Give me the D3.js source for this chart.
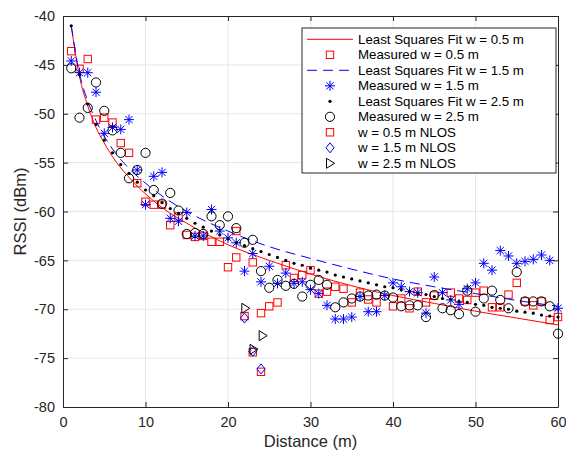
<!DOCTYPE html>
<html>
<head>
<meta charset="utf-8">
<script src="https://cdn.jsdelivr.net/npm/d3@7"></script>
<style>
  body { margin: 0; background: #fff; }
  svg { font-family: 'Liberation Sans', Arial, sans-serif; }
</style>
</head>
<body>
<div id="chart"></div>
<script>
// distances where the fitted curves were read
const fitDist = [1, 2, 3, 4, 5, 6, 8, 10, 12, 15, 20, 25, 30, 35, 40, 45, 50, 55, 60]
const fitRed = [-41.0, -46.2, -49.2, -51.4, -53.0, -54.4, -56.5, -58.2, -59.6, -61.2, -63.4, -65.0, -66.4, -67.6, -68.6, -69.4, -70.2, -70.9, -71.6]
const fitBlue = [-41.0, -45.9, -48.7, -50.7, -52.3, -53.6, -55.6, -57.1, -58.4, -60.0, -62.0, -63.6, -64.8, -65.9, -66.9, -67.7, -68.4, -69.1, -69.7]

// w = 2.5 m fit is drawn as dots, one per metre
const fitBlackDist = [1, 2, 3, 4, 5, 6, 7, 8, 9, 10, 11, 12, 13, 14, 15, 16, 17, 18, 19, 20,
  21, 22, 23, 24, 25, 26, 27, 28, 29, 30, 31, 32, 33, 34, 35, 36, 37, 38, 39, 40,
  41, 42, 43, 44, 45, 46, 47, 48, 49, 50, 51, 52, 53, 54, 55, 56, 57, 58, 59, 60]
const fitBlack = [-41.0, -46.0, -49.0, -51.1, -52.7, -54.0, -55.2, -56.1, -57.0, -57.8,
  -58.4, -59.1, -59.7, -60.2, -60.7, -61.2, -61.6, -62.0, -62.4, -62.8,
  -63.2, -63.5, -63.8, -64.1, -64.4, -64.7, -65.0, -65.3, -65.5, -65.8,
  -66.0, -66.2, -66.5, -66.7, -66.9, -67.1, -67.3, -67.5, -67.7, -67.8,
  -68.0, -68.2, -68.4, -68.5, -68.7, -68.9, -69.0, -69.2, -69.3, -69.5,
  -69.6, -69.8, -69.9, -70.0, -70.2, -70.3, -70.4, -70.6, -70.7, -70.8]

// measured RSSI, [distance, dBm]
const measured05 = [[1, -43.6], [2, -45.4], [3, -44.4], [4, -50.6], [5, -50.4], [6, -50.9], [7, -53.0], [8, -54.0],
  [9, -57.1], [10, -59.0], [11, -59.3], [12, -59.3], [13, -61.4], [14, -60.5], [15, -62.4], [16, -62.6],
  [17, -62.5], [18, -63.1], [19, -63.1], [20, -65.7], [21, -62.0], [21, -64.7], [23, -65.2], [24, -70.4],
  [25, -69.7], [26, -69.3], [27, -65.5], [28, -66.8], [29, -66.5], [30, -66.0], [31, -68.4], [32, -68.2],
  [33, -67.7], [34, -67.9], [35, -69.3], [36, -68.3], [37, -69.0], [38, -69.3], [40, -69.7], [41, -68.9],
  [42, -69.9], [43, -68.2], [44, -69.3], [45, -68.6], [47, -68.3], [48, -68.9], [49, -69.05], [50, -68.3],
  [51, -68.1], [52, -69.8], [53, -69.8], [54, -68.5], [55, -67.3], [56, -69.2], [57, -69.6], [58, -69.2],
  [59, -71.1], [60, -70.8]]
const measured15 = [[1, -44.6], [2, -45.8], [3, -45.8], [4, -47.8], [5, -52.0], [6, -51.4], [7, -51.6], [8, -50.6],
  [9, -55.75], [10, -59.3], [11, -56.4], [12, -56.0], [13, -60.7], [14, -61.0], [15, -60.1], [16, -62.5],
  [17, -62.5], [18, -59.8], [19, -62.0], [20, -62.7], [21, -63.2], [22, -66.1], [23, -64.3], [24, -67.2],
  [25, -65.6], [26, -67.35], [27, -66.3], [28, -67.35], [29, -67.2], [30, -68.0], [31, -68.4], [32, -69.6],
  [33, -71.0], [34, -71.0], [35, -70.8], [36, -68.7], [37, -70.25], [38, -70.25], [39, -68.6], [40, -67.3],
  [41, -67.7], [42, -68.2], [43, -68.3], [44, -70.4], [45, -66.7], [46, -68.3], [47, -69.05], [48, -69.5],
  [49, -67.9], [50, -67.3], [51, -65.3], [52, -66.0], [53, -64.0], [54, -64.55], [55, -65.3], [56, -65.1],
  [57, -64.9], [58, -64.45], [59, -65.0], [60, -69.9]]
const measured25 = [[1, -45.35], [2, -50.4], [3, -49.4], [4, -46.8], [5, -49.7], [6, -51.7], [7, -54.0], [8, -56.6],
  [9, -55.75], [10, -54.0], [11, -57.8], [12, -59.2], [13, -58.1], [14, -59.9], [15, -62.3], [16, -62.2],
  [17, -62.3], [18, -60.5], [19, -61.4], [20, -60.5], [21, -61.7], [22, -63.2], [23, -62.9], [24, -66.1],
  [25, -67.8], [26, -67.0], [27, -67.6], [28, -67.4], [29, -68.7], [30, -67.5], [31, -67.0], [32, -67.5],
  [33, -69.8], [34, -69.3], [35, -68.9], [36, -68.7], [37, -68.6], [38, -68.5], [39, -68.6], [40, -68.8],
  [41, -69.7], [42, -69.6], [43, -69.6], [44, -70.8], [45, -68.55], [46, -69.9], [47, -70.1], [48, -70.5],
  [49, -68.1], [50, -70.25], [51, -68.9], [52, -68.1], [53, -69.05], [54, -69.9], [55, -66.2], [56, -69.2],
  [57, -69.2], [58, -69.2], [59, -69.7], [60, -72.5]]

const nlos05 = [[22, -70.7], [23, -74.4], [24, -76.4]]
const nlos15 = [[22, -70.9], [23, -74.3], [24, -76.1]]
const nlos25 = [[22.1, -69.9], [23.1, -74.1], [24.2, -72.7]]

const legendLabels = [
  'Least Squares Fit w = 0.5 m', 'Measured w = 0.5 m',
  'Least Squares Fit w = 1.5 m', 'Measured w = 1.5 m',
  'Least Squares Fit w = 2.5 m', 'Measured w = 2.5 m',
  'w = 0.5 m NLOS', 'w = 1.5 m NLOS', 'w = 2.5 m NLOS'
]
const xTicks = [0, 10, 20, 30, 40, 50, 60]
const yTicks = [-80, -75, -70, -65, -60, -55, -50, -45, -40]

const width = 566
const height = 452
const margin = { top: 16, right: 8, bottom: 45, left: 63 }
const innerW = width - margin.left - margin.right
const innerH = height - margin.top - margin.bottom
const axisColor = '#262626'

const svg = d3.select('#chart')
  .append('svg')
  .attr('width', width)
  .attr('height', height)

const g = svg.append('g')
  .attr('transform', `translate(${margin.left}, ${margin.top})`)

const x = d3.scaleLinear().domain([0, 60]).range([0, innerW])
const y = d3.scaleLinear().domain([-80, -40]).range([innerH, 0])

// grid
g.append('g')
  .selectAll('line')
  .data(xTicks.slice(1, -1))
  .join('line')
  .attr('x1', d => x(d)).attr('x2', d => x(d))
  .attr('y1', 0).attr('y2', innerH)
  .attr('stroke', '#e6e6e6')
g.append('g')
  .selectAll('line')
  .data(yTicks.slice(1, -1))
  .join('line')
  .attr('x1', 0).attr('x2', innerW)
  .attr('y1', d => y(d)).attr('y2', d => y(d))
  .attr('stroke', '#e6e6e6')

// axes, ticks pointing inward, box all round
const fmt = d => String(d)
const styleAxis = sel => {
  sel.select('.domain').attr('stroke', axisColor)
  sel.selectAll('.tick line').attr('stroke', axisColor)
  sel.selectAll('.tick text')
    .attr('fill', axisColor)
    .attr('font-size', 14.5)
    .attr('font-family', 'Liberation Sans, Arial, sans-serif')
}
g.append('g')
  .attr('transform', `translate(0, ${innerH})`)
  .call(d3.axisBottom(x).tickValues(xTicks).tickFormat(fmt).tickSizeInner(-5).tickSizeOuter(0).tickPadding(10))
  .call(styleAxis)
g.append('g')
  .call(d3.axisTop(x).tickValues(xTicks).tickFormat('').tickSizeInner(-5).tickSizeOuter(0))
  .call(styleAxis)
g.append('g')
  .call(d3.axisLeft(y).tickValues(yTicks).tickFormat(fmt).tickSizeInner(-5).tickSizeOuter(0).tickPadding(8))
  .call(styleAxis)
g.append('g')
  .attr('transform', `translate(${innerW}, 0)`)
  .call(d3.axisRight(y).tickValues(yTicks).tickFormat('').tickSizeInner(-5).tickSizeOuter(0))
  .call(styleAxis)

svg.append('text')
  .attr('x', margin.left + innerW / 2)
  .attr('y', 447)
  .attr('text-anchor', 'middle')
  .attr('font-size', 16.5)
  .attr('fill', axisColor)
  .text('Distance (m)')

svg.append('text')
  .attr('transform', `translate(26, ${margin.top + innerH / 2}) rotate(-90)`)
  .attr('text-anchor', 'middle')
  .attr('font-size', 16.5)
  .attr('fill', axisColor)
  .text('RSSI (dBm)')

// marker painters
const square = (sel, color) => sel.append('rect')
  .attr('x', -3.7).attr('y', -3.7).attr('width', 7.4).attr('height', 7.4)
  .attr('fill', 'none').attr('stroke', color)
const circle = sel => sel.append('circle')
  .attr('r', 4.6).attr('fill', 'none').attr('stroke', '#000')
const star = sel => sel.append('path')
  .attr('d', 'M0,-5V5M-5,0H5M-3.6,-3.6L3.6,3.6M-3.6,3.6L3.6,-3.6')
  .attr('fill', 'none').attr('stroke', 'blue')
const diamond = sel => sel.append('path')
  .attr('d', 'M0,-5L4,0L0,5L-4,0Z')
  .attr('fill', 'none').attr('stroke', 'blue')
const triangle = sel => sel.append('path')
  .attr('d', 'M-3.5,-5L4.5,0L-3.5,5Z')
  .attr('fill', 'none').attr('stroke', '#000')

const plotMarkers = (data, painter) => {
  g.append('g')
    .selectAll('g')
    .data(data)
    .join('g')
    .attr('transform', d => `translate(${x(d[0])}, ${y(d[1])})`)
    .each(function () { painter(d3.select(this)) })
}

const line = d3.line()
  .x(d => x(d[0]))
  .y(d => y(d[1]))
  .curve(d3.curveMonotoneX)

g.append('path')
  .datum(d3.zip(fitDist, fitRed))
  .attr('fill', 'none')
  .attr('stroke', 'red')
  .attr('d', line)
plotMarkers(measured05, s => square(s, 'red'))

g.append('path')
  .datum(d3.zip(fitDist, fitBlue))
  .attr('fill', 'none')
  .attr('stroke', 'blue')
  .attr('stroke-dasharray', '10,6')
  .attr('d', line)
plotMarkers(measured15, star)

g.append('g')
  .selectAll('circle')
  .data(d3.zip(fitBlackDist, fitBlack))
  .join('circle')
  .attr('cx', d => x(d[0]))
  .attr('cy', d => y(d[1]))
  .attr('r', 1.6)
  .attr('fill', '#000')
plotMarkers(measured25, circle)

plotMarkers(nlos05, s => square(s, 'red'))
plotMarkers(nlos15, diamond)
plotMarkers(nlos25, triangle)

// legend
const legend = svg.append('g').attr('transform', 'translate(302, 28)')
legend.append('rect')
  .attr('width', 254).attr('height', 145)
  .attr('fill', '#fff').attr('stroke', axisColor)

const symbolPainters = [
  s => s.append('line').attr('x1', -23).attr('x2', 23).attr('stroke', 'red'),
  s => square(s, 'red'),
  s => s.append('line').attr('x1', -23).attr('x2', 23).attr('stroke', 'blue').attr('stroke-dasharray', '10,6'),
  star,
  s => s.append('circle').attr('r', 1.6).attr('fill', '#000'),
  circle,
  s => square(s, 'red'),
  diamond,
  triangle
]

legendLabels.forEach((label, i) => {
  const row = legend.append('g').attr('transform', `translate(0, ${11.3 + i * 15.5})`)
  symbolPainters[i](row.append('g').attr('transform', 'translate(28, 0)'))
  row.append('text')
    .attr('x', 56)
    .attr('dy', '0.35em')
    .attr('font-size', 13.3)
    .attr('fill', '#000')
    .text(label)
})
</script>
</body>
</html>
